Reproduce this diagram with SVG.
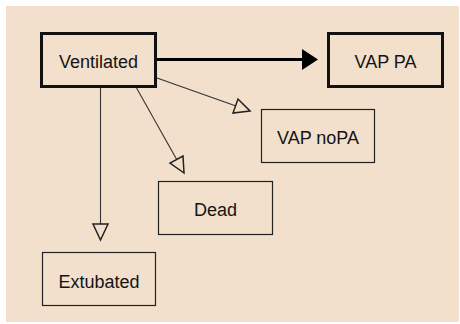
<svg xmlns="http://www.w3.org/2000/svg" width="460" height="324" viewBox="0 0 460 324">
<defs>
<style>
.bg{fill:#f2e0cc}
.box{fill:none;stroke:#222;stroke-width:1.2}
.bold{fill:none;stroke:#111;stroke-width:3}
.lbl{font-family:"Liberation Sans",Arial,sans-serif;font-size:18px;fill:#141414;text-anchor:middle}
.thin{stroke:#333;stroke-width:1.1;fill:none}
.open{fill:none;stroke:#222;stroke-width:1.5;stroke-linejoin:miter}
</style>
</defs>
<rect x="0" y="0" width="460" height="324" fill="#ffffff"/>
<rect class="bg" x="6" y="6" width="453" height="316"/>
<g id="connectors">
<line x1="157" y1="59.5" x2="303" y2="59.5" stroke="#000" stroke-width="3"/>
<polygon points="302,49 318,59.5 302,70" fill="#000"/>
<line class="thin" x1="157" y1="78" x2="236" y2="106"/>
<polygon class="open" points="250,111 233,113 238,99"/>
<line class="thin" x1="136" y1="87" x2="177" y2="160"/>
<polygon class="open" points="184,173 170,163 183,156"/>
<line class="thin" x1="100.5" y1="87" x2="100.5" y2="224"/>
<polygon class="open" points="93,224 108,224 100.5,240"/>
</g>
<g id="ventilated">
<rect class="bold" x="41.5" y="33.5" width="114" height="53"/>
<text class="lbl" x="98.5" y="68">Ventilated</text>
</g>
<g id="vap-pa">
<rect class="bold" x="328.5" y="33.5" width="114" height="53"/>
<text class="lbl" x="385.5" y="68">VAP PA</text>
</g>
<g id="vap-nopa">
<rect class="box" x="261.5" y="109.5" width="113" height="53"/>
<text class="lbl" x="318" y="144">VAP noPA</text>
</g>
<g id="dead">
<rect class="box" x="158.5" y="181.5" width="114" height="53"/>
<text class="lbl" x="215.5" y="216">Dead</text>
</g>
<g id="extubated">
<rect class="box" x="42.5" y="252.5" width="113" height="53"/>
<text class="lbl" x="99" y="288">Extubated</text>
</g>
</svg>
